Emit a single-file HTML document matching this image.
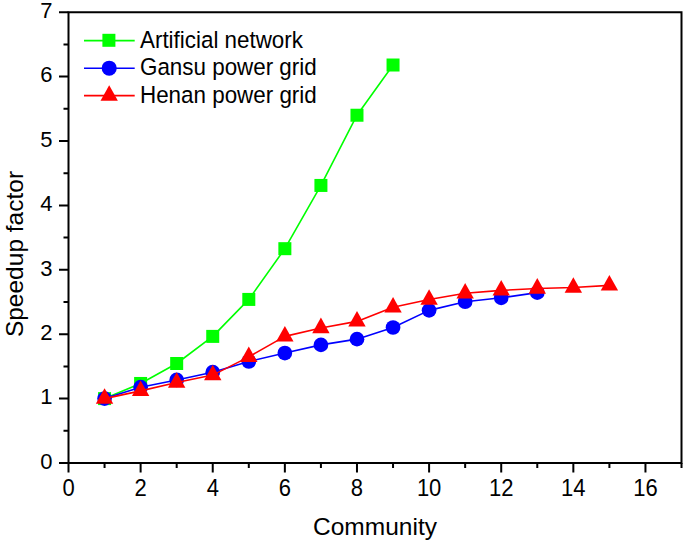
<!DOCTYPE html><html><head><meta charset="utf-8"><style>html,body{margin:0;padding:0;background:#fff;}svg{display:block;}text{font-family:"Liberation Sans",sans-serif;fill:#000;}</style></head><body>
<svg width="685" height="542" viewBox="0 0 685 542">
<rect width="685" height="542" fill="#fff"/>
<path d="M68.5,463.0 L68.5,12.2 L681.5,12.2 L681.5,463.0 Z" fill="none" stroke="#000" stroke-width="2"/>
<path d="M59.0,463.00 H68.5 M63.5,430.80 H68.5 M59.0,398.60 H68.5 M63.5,366.40 H68.5 M59.0,334.20 H68.5 M63.5,302.00 H68.5 M59.0,269.80 H68.5 M63.5,237.60 H68.5 M59.0,205.40 H68.5 M63.5,173.20 H68.5 M59.0,141.00 H68.5 M63.5,108.80 H68.5 M59.0,76.60 H68.5 M63.5,44.40 H68.5 M59.0,12.20 H68.5 M68.50,463.0 V472.5 M104.56,463.0 V468.0 M140.62,463.0 V472.5 M176.68,463.0 V468.0 M212.74,463.0 V472.5 M248.80,463.0 V468.0 M284.86,463.0 V472.5 M320.92,463.0 V468.0 M356.98,463.0 V472.5 M393.04,463.0 V468.0 M429.10,463.0 V472.5 M465.16,463.0 V468.0 M501.22,463.0 V472.5 M537.28,463.0 V468.0 M573.34,463.0 V472.5 M609.40,463.0 V468.0 M645.46,463.0 V472.5 M681.52,463.0 V468.0" stroke="#000" stroke-width="2" fill="none"/>
<text transform="translate(52.5,468.80) scale(1,1.04)" font-size="22" text-anchor="end">0</text>
<text transform="translate(52.5,404.40) scale(1,1.04)" font-size="22" text-anchor="end">1</text>
<text transform="translate(52.5,340.00) scale(1,1.04)" font-size="22" text-anchor="end">2</text>
<text transform="translate(52.5,275.60) scale(1,1.04)" font-size="22" text-anchor="end">3</text>
<text transform="translate(52.5,211.20) scale(1,1.04)" font-size="22" text-anchor="end">4</text>
<text transform="translate(52.5,146.80) scale(1,1.04)" font-size="22" text-anchor="end">5</text>
<text transform="translate(52.5,82.40) scale(1,1.04)" font-size="22" text-anchor="end">6</text>
<text transform="translate(52.5,18.00) scale(1,1.04)" font-size="22" text-anchor="end">7</text>
<text transform="translate(68.50,495.5) scale(1,1.07)" font-size="22" text-anchor="middle">0</text>
<text transform="translate(140.62,495.5) scale(1,1.07)" font-size="22" text-anchor="middle">2</text>
<text transform="translate(212.74,495.5) scale(1,1.07)" font-size="22" text-anchor="middle">4</text>
<text transform="translate(284.86,495.5) scale(1,1.07)" font-size="22" text-anchor="middle">6</text>
<text transform="translate(356.98,495.5) scale(1,1.07)" font-size="22" text-anchor="middle">8</text>
<text transform="translate(429.10,495.5) scale(1,1.07)" font-size="22" text-anchor="middle">10</text>
<text transform="translate(501.22,495.5) scale(1,1.07)" font-size="22" text-anchor="middle">12</text>
<text transform="translate(573.34,495.5) scale(1,1.07)" font-size="22" text-anchor="middle">14</text>
<text transform="translate(645.46,495.5) scale(1,1.07)" font-size="22" text-anchor="middle">16</text>
<text x="375" y="535.3" font-size="24.5" text-anchor="middle">Community</text>
<text transform="translate(23.3,254) rotate(-90)" font-size="24.5" text-anchor="middle">Speedup factor</text>
<polyline points="104.56,398.60 140.62,383.47 176.68,363.50 212.74,336.39 248.80,299.42 284.86,248.68 320.92,185.44 356.98,115.24 393.04,65.01" fill="none" stroke="#00ff00" stroke-width="1.6" stroke-linejoin="round"/>
<rect x="98.06" y="392.10" width="13.0" height="13.0" fill="#00ff00"/>
<rect x="134.12" y="376.97" width="13.0" height="13.0" fill="#00ff00"/>
<rect x="170.18" y="357.00" width="13.0" height="13.0" fill="#00ff00"/>
<rect x="206.24" y="329.89" width="13.0" height="13.0" fill="#00ff00"/>
<rect x="242.30" y="292.92" width="13.0" height="13.0" fill="#00ff00"/>
<rect x="278.36" y="242.18" width="13.0" height="13.0" fill="#00ff00"/>
<rect x="314.42" y="178.94" width="13.0" height="13.0" fill="#00ff00"/>
<rect x="350.48" y="108.74" width="13.0" height="13.0" fill="#00ff00"/>
<rect x="386.54" y="58.51" width="13.0" height="13.0" fill="#00ff00"/>
<polyline points="104.56,398.60 140.62,387.20 176.68,379.92 212.74,372.20 248.80,361.51 284.86,353.07 320.92,344.89 356.98,339.16 393.04,327.50 429.10,310.37 465.16,301.68 501.22,297.81 537.28,292.66" fill="none" stroke="#0000ff" stroke-width="1.6" stroke-linejoin="round"/>
<circle cx="104.56" cy="398.60" r="7.35" fill="#0000ff"/>
<circle cx="140.62" cy="387.20" r="7.35" fill="#0000ff"/>
<circle cx="176.68" cy="379.92" r="7.35" fill="#0000ff"/>
<circle cx="212.74" cy="372.20" r="7.35" fill="#0000ff"/>
<circle cx="248.80" cy="361.51" r="7.35" fill="#0000ff"/>
<circle cx="284.86" cy="353.07" r="7.35" fill="#0000ff"/>
<circle cx="320.92" cy="344.89" r="7.35" fill="#0000ff"/>
<circle cx="356.98" cy="339.16" r="7.35" fill="#0000ff"/>
<circle cx="393.04" cy="327.50" r="7.35" fill="#0000ff"/>
<circle cx="429.10" cy="310.37" r="7.35" fill="#0000ff"/>
<circle cx="465.16" cy="301.68" r="7.35" fill="#0000ff"/>
<circle cx="501.22" cy="297.81" r="7.35" fill="#0000ff"/>
<circle cx="537.28" cy="292.66" r="7.35" fill="#0000ff"/>
<polyline points="104.56,398.60 140.62,390.87 176.68,382.56 212.74,375.09 248.80,356.87 284.86,336.39 320.92,327.95 356.98,321.38 393.04,307.28 429.10,299.55 465.16,293.31 501.22,290.41 537.28,288.48 573.34,287.57 609.40,285.38" fill="none" stroke="#ff0000" stroke-width="1.6" stroke-linejoin="round"/>
<polygon points="104.56,388.20 95.86,403.80 113.26,403.80" fill="#ff0000"/>
<polygon points="140.62,380.47 131.92,396.07 149.32,396.07" fill="#ff0000"/>
<polygon points="176.68,372.16 167.98,387.76 185.38,387.76" fill="#ff0000"/>
<polygon points="212.74,364.69 204.04,380.29 221.44,380.29" fill="#ff0000"/>
<polygon points="248.80,346.47 240.10,362.07 257.50,362.07" fill="#ff0000"/>
<polygon points="284.86,325.99 276.16,341.59 293.56,341.59" fill="#ff0000"/>
<polygon points="320.92,317.55 312.22,333.15 329.62,333.15" fill="#ff0000"/>
<polygon points="356.98,310.98 348.28,326.58 365.68,326.58" fill="#ff0000"/>
<polygon points="393.04,296.88 384.34,312.48 401.74,312.48" fill="#ff0000"/>
<polygon points="429.10,289.15 420.40,304.75 437.80,304.75" fill="#ff0000"/>
<polygon points="465.16,282.91 456.46,298.51 473.86,298.51" fill="#ff0000"/>
<polygon points="501.22,280.01 492.52,295.61 509.92,295.61" fill="#ff0000"/>
<polygon points="537.28,278.08 528.58,293.68 545.98,293.68" fill="#ff0000"/>
<polygon points="573.34,277.17 564.64,292.77 582.04,292.77" fill="#ff0000"/>
<polygon points="609.40,274.98 600.70,290.58 618.10,290.58" fill="#ff0000"/>
<line x1="84" y1="40.6" x2="134.7" y2="40.6" stroke="#00ff00" stroke-width="1.6"/>
<rect x="102.40" y="33.80" width="13.0" height="13.0" fill="#00ff00"/>
<text transform="translate(140,47.8) scale(1,1.05)" font-size="22.4">Artificial network</text>
<line x1="84" y1="68.2" x2="134.7" y2="68.2" stroke="#0000ff" stroke-width="1.6"/>
<circle cx="109.20" cy="68.20" r="7.55" fill="#0000ff"/>
<text transform="translate(140,75.0) scale(1,1.05)" font-size="22.4">Gansu power grid</text>
<line x1="84" y1="95.6" x2="134.7" y2="95.6" stroke="#ff0000" stroke-width="1.6"/>
<polygon points="109.20,85.20 100.50,100.80 117.90,100.80" fill="#ff0000"/>
<text transform="translate(140,102.7) scale(1,1.05)" font-size="22.4">Henan power grid</text>
</svg></body></html>
